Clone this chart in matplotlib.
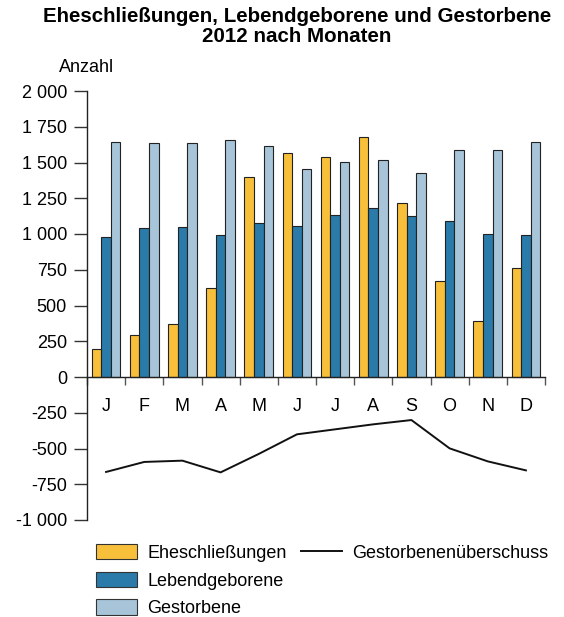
import matplotlib
matplotlib.use("Agg")
import matplotlib.pyplot as plt
from matplotlib.patches import Patch
from matplotlib.lines import Line2D
import numpy as np

plt.rcParams.update({
    "font.family": ["Liberation Sans", "DejaVu Sans"],
    "font.size": 13,
})

# data
months = ["J", "F", "M", "A", "M", "J", "J", "A", "S", "O", "N", "D"]
eheschliessungen = [198, 291, 368, 625, 1399, 1569, 1538, 1681, 1219, 669, 394, 760]
lebendgeborene = [977, 1040, 1049, 991, 1077, 1058, 1131, 1184, 1126, 1091, 1000, 991]
gestorbene = [1641, 1634, 1636, 1655, 1618, 1457, 1501, 1517, 1429, 1590, 1590, 1641]
ueberschuss = [-664, -594, -585, -667, -538, -401, -366, -331, -301, -499, -590, -653]

y_ticks = [2000, 1750, 1500, 1250, 1000, 750, 500, 250, 0, -250, -500, -750, -1000]
y_labels = ["2 000", "1 750", "1 500", "1 250", "1 000", "750", "500", "250", "0",
            "-250", "-500", "-750", "-1 000"]

c_ehe = "#F8C03A"
c_leb = "#2A7AAA"
c_ges = "#A7C4D8"

fig = plt.figure(figsize=(5.64, 6.17), dpi=100)
ax = fig.add_axes([87/564, 1 - 520/617, (545 - 87)/564, (520 - 91)/617])

x = np.arange(len(months)) + 0.5
w = 0.25
ax.bar(x - w, eheschliessungen, w, color=c_ehe, edgecolor="#222222", linewidth=0.8, zorder=2)
ax.bar(x, lebendgeborene, w, color=c_leb, edgecolor="#222222", linewidth=0.8, zorder=2)
ax.bar(x + w, gestorbene, w, color=c_ges, edgecolor="#222222", linewidth=0.8, zorder=2)
ax.plot(x, ueberschuss, color="#111111", linewidth=1.4, zorder=3)

ax.set_xlim(0, 12)
ax.set_ylim(-1000, 2000)

ax.spines["top"].set_visible(False)
ax.spines["right"].set_visible(False)
ax.spines["bottom"].set_position(("data", 0))
ax.spines["bottom"].set_zorder(4)
for s in ("left", "bottom"):
    ax.spines[s].set_linewidth(1.0)
    ax.spines[s].set_color("#222222")

ax.set_yticks(y_ticks)
ax.set_yticklabels(y_labels)
ax.tick_params(axis="y", direction="out", length=9.4, width=1, color="#333333", pad=5)

ax.set_xticks(np.arange(13))
ax.set_xticklabels([])
ax.tick_params(axis="x", which="major", direction="out", length=6, width=1, color="#555555")
ax.set_xticks(x, minor=True)
ax.set_xticklabels(months, minor=True)
ax.tick_params(axis="x", which="minor", length=0, pad=15)

fig.text(297/564, 1 - 17/617, "Eheschließungen, Lebendgeborene und Gestorbene",
         ha="center", va="center", fontsize=14.8, fontweight="bold")
fig.text(297/564, 1 - 37/617, "2012 nach Monaten",
         ha="center", va="center", fontsize=14.8, fontweight="bold")
fig.text(59/564, 1 - 67/617, "Anzahl", ha="left", va="center", fontsize=13)

bar_handles = [Patch(facecolor=c, edgecolor="#333333", linewidth=0.8) for c in (c_ehe, c_leb, c_ges)]
leg1 = fig.legend(bar_handles, ["Eheschließungen", "Lebendgeborene", "Gestorbene"],
                  loc="upper left", bbox_to_anchor=(83/564, 1 - 531/617),
                  frameon=False, handlelength=2.3, handleheight=0.95,
                  handletextpad=0.55, labelspacing=0.55, borderpad=0.2)
leg2 = fig.legend([Line2D([], [], color="#111111", linewidth=1.4)], ["Gestorbenenüberschuss"],
                  loc="upper left", bbox_to_anchor=(288/564, 1 - 531/617),
                  frameon=False, handlelength=2.3, handleheight=0.95,
                  handletextpad=0.55, borderpad=0.2)

fig.savefig("out.png", dpi=100)
